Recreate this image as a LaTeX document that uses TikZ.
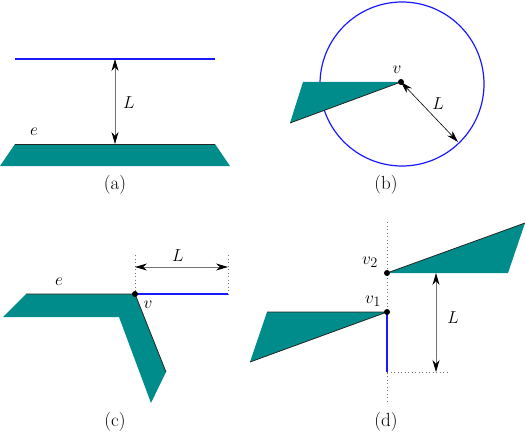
\documentclass[tikz,border=0pt]{standalone}
\usetikzlibrary{arrows.meta}
\definecolor{tealfill}{RGB}{0,140,138}
\definecolor{lineblue}{RGB}{25,25,255}
\tikzset{
  every node/.style={font=\fontsize{19}{22}\selectfont, inner sep=1pt},
  plate/.style={fill=tealfill, draw=none},
  rim/.style={draw=black!85, line width=0.8pt},
  bluel/.style={draw=lineblue, line width=1.2pt},
  dimarrow/.style={draw=black!55, line width=0.8pt, {Stealth[length=12pt,width=7pt,black]}-{Stealth[length=12pt,width=7pt,black]}},
  dimarrowk/.style={draw=black, line width=0.6pt, {Stealth[length=12pt,width=7pt,black]}-{Stealth[length=12pt,width=7pt,black]}},
  dotl/.style={draw=black!55, line width=0.8pt, dash pattern=on 1pt off 2.5pt},
  vdot/.style={circle, fill=black, inner sep=0pt, minimum size=6pt}
}
\begin{document}
\begin{tikzpicture}[x=1pt,y=-1pt]
\useasboundingbox (0,0) rectangle (526,433);
% ---------- (a)
\coordinate (a1) at (15,144);
\coordinate (a2) at (215,144);
\coordinate (a3) at (230,166);
\coordinate (a4) at (0,166);
\fill[plate] (a1) -- (a2) -- (a3) -- (a4) -- cycle;
\draw[rim] (a1) -- (a2);
\coordinate (ab1) at (15,59);
\coordinate (ab2) at (215,59);
\draw[bluel] (ab1) -- (ab2);
\coordinate (at) at (115,59);
\coordinate (ab) at (115,144);
\draw[dimarrow] (at) -- (ab);
\node (aL) at (129,103) {$L$};
\node (ae) at (34,132) {$e$};
\node (acap) at (115,185) {(a)};
% ---------- (b)
\coordinate (bv) at (401,82);
\draw[bluel] (bv) ++(1,2) circle (82);
\coordinate (b1) at (303,82);
\coordinate (b2) at (290,123);
\fill[plate] (b1) -- (bv) -- (b2) -- cycle;
\draw[rim] (b2) -- (bv);
\coordinate (be) at (458,142);
\draw[dimarrowk] (bv) -- (be);
\node[vdot] (bvd) at (bv) {};
\node (bL) at (438,104) {$L$};
\node (bvl) at (397,70) {$v$};
\node (bcap) at (386,185) {(b)};
% ---------- (c)
\coordinate (cv) at (135,294);
\coordinate (c1) at (26,294);
\coordinate (c2) at (166,372);
\coordinate (c3) at (151,403);
\coordinate (c4) at (119,317);
\coordinate (c5) at (3,317);
\fill[plate] (c1) -- (cv) -- (c2) -- (c3) -- (c4) -- (c5) -- cycle;
\draw[rim] (c1) -- (cv) -- (c2);
\coordinate (cb) at (228,294);
\draw[bluel] (cv) -- (cb);
\coordinate (cd1) at (135,255);
\coordinate (cd2) at (228,255);
\draw[dotl] (cd1) -- (cv);
\draw[dotl] (cd2) -- (cb);
\coordinate (ca1) at (135,267);
\coordinate (ca2) at (228,267);
\draw[dimarrow] (ca1) -- (ca2);
\node[vdot] (cvd) at (cv) {};
\node (cL) at (178,256) {$L$};
\node (ce) at (59,282) {$e$};
\node (cvl) at (148,305) {$v$};
\node (ccap) at (115,422) {(c)};
% ---------- (d)
\coordinate (dt) at (387,222);
\coordinate (dbot) at (387,404);
\draw[dotl] (dt) -- (dbot);
\coordinate (dv2) at (387,273);
\coordinate (dv1) at (387,312);
\coordinate (du1) at (508,273);
\coordinate (du2) at (525,223);
\fill[plate] (dv2) -- (du1) -- (du2) -- cycle;
\draw[rim] (dv2) -- (du2);
\coordinate (dl1) at (267,312);
\coordinate (dl2) at (250,362);
\fill[plate] (dv1) -- (dl1) -- (dl2) -- cycle;
\draw[rim] (dl1) -- (dv1) -- (dl2);
\coordinate (dbl) at (387,372);
\draw[bluel] (dv1) -- (dbl);
\coordinate (dh) at (449,372);
\draw[dotl] (dbl) -- (dh);
\coordinate (da1) at (436,273);
\coordinate (da2) at (436,372);
\draw[dimarrow] (da1) -- (da2);
\node[vdot] (dv2d) at (dv2) {};
\node[vdot] (dv1d) at (dv1) {};
\node (dL) at (453,318) {$L$};
\node (dv2l) at (370,262) {$v_2$};
\node (dv1l) at (373,301) {$v_1$};
\node (dcap) at (386,422) {(d)};
\end{tikzpicture}
\end{document}
